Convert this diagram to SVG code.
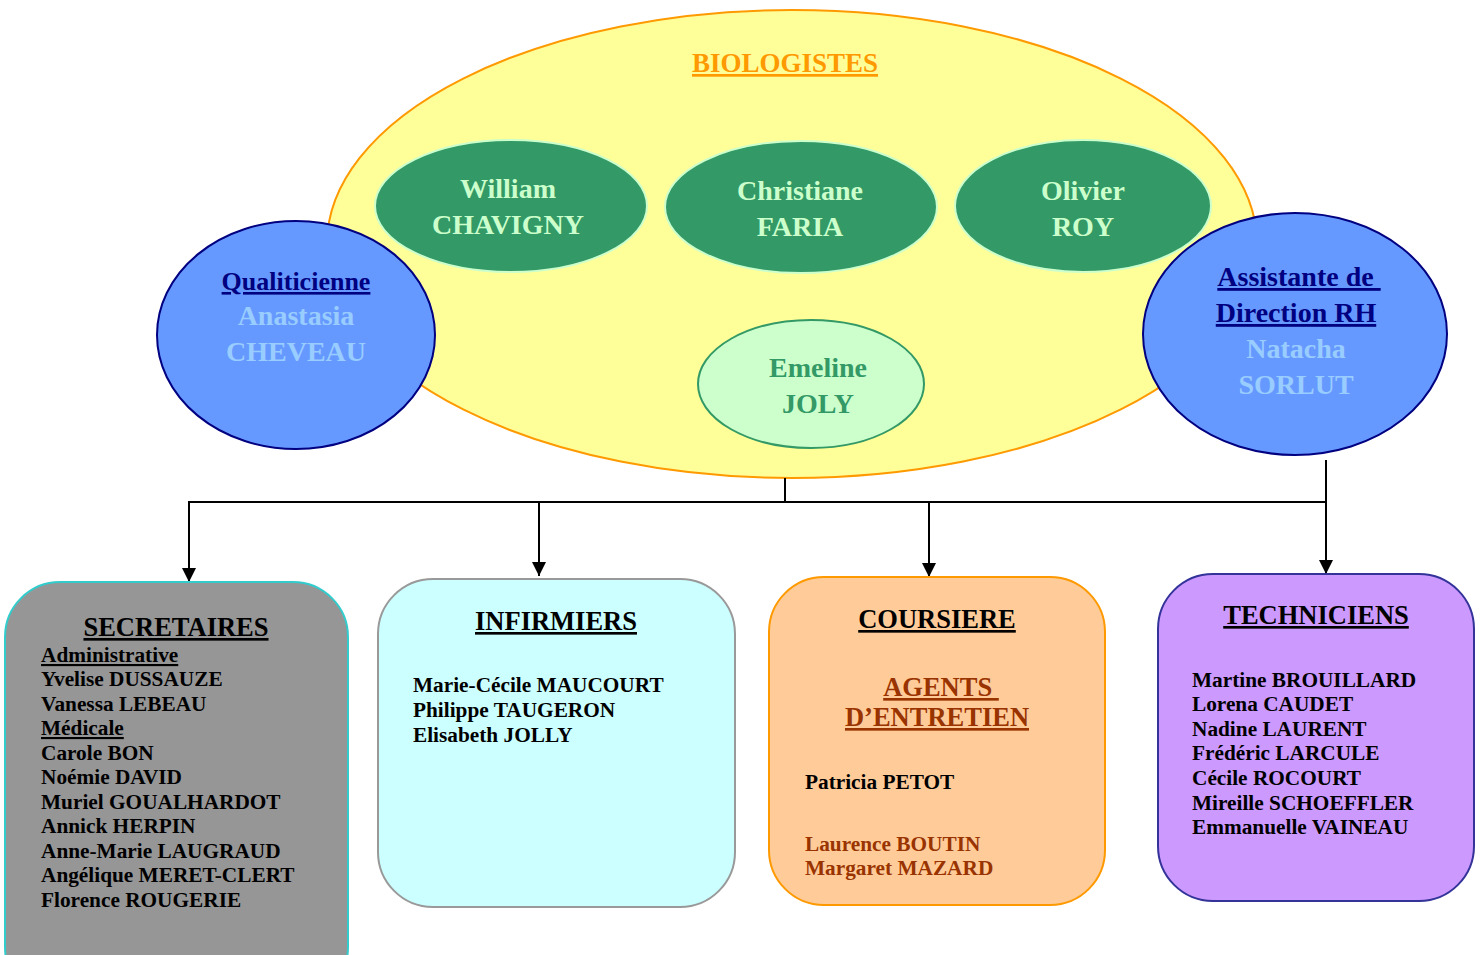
<svg xmlns="http://www.w3.org/2000/svg" width="1480" height="955" viewBox="0 0 1480 955">
<style>
  text { font-family: "Liberation Serif", "Times New Roman", serif; font-weight: bold; }
  .c { text-anchor: middle; }
  .u { text-decoration: underline; white-space: pre; }
  .bio { font-size: 28px; fill: #CCFFCC; }
  .title { font-size: 26.5px; fill: #000000; }
  .lst { font-size: 21.3px; fill: #000000; }
  .conn { stroke: #000; stroke-width: 2; fill: none; }
</style>
<defs>
  <marker id="arr" markerWidth="14" markerHeight="14" refX="14" refY="7" orient="auto" markerUnits="userSpaceOnUse" viewBox="0 0 14 14">
    <path d="M0,0 L14,7 L0,14 Z" fill="#000"/>
  </marker>
</defs>
<rect width="1480" height="955" fill="#fff"/>

<g id="biologistes">
  <ellipse cx="792" cy="244" rx="465" ry="234" fill="#FFFF99" stroke="#FF9900" stroke-width="2"/>
  <text x="785" y="72" class="c u" font-size="27" fill="#FF9900">BIOLOGISTES</text>
</g>

<g id="william">
  <ellipse cx="511" cy="206" rx="136" ry="66" fill="#339966" stroke="#CCFFCC" stroke-width="2"/>
  <text x="508" y="198" class="c bio">William</text>
  <text x="508" y="234" class="c bio">CHAVIGNY</text>
</g>
<g id="christiane">
  <ellipse cx="801" cy="207" rx="136" ry="66" fill="#339966" stroke="#CCFFCC" stroke-width="2"/>
  <text x="800" y="200" class="c bio">Christiane</text>
  <text x="800" y="236" class="c bio">FARIA</text>
</g>
<g id="olivier">
  <ellipse cx="1083" cy="206" rx="128" ry="66" fill="#339966" stroke="#CCFFCC" stroke-width="2"/>
  <text x="1083" y="200" class="c bio">Olivier</text>
  <text x="1083" y="236" class="c bio">ROY</text>
</g>
<g id="emeline">
  <ellipse cx="811" cy="384" rx="113" ry="64" fill="#CCFFCC" stroke="#339966" stroke-width="2"/>
  <text x="818" y="377" class="c" font-size="28" fill="#339966">Emeline</text>
  <text x="818" y="413" class="c" font-size="28" fill="#339966">JOLY</text>
</g>

<g id="qualiticienne">
  <ellipse cx="296" cy="335" rx="139" ry="114" fill="#6699FF" stroke="#000080" stroke-width="2"/>
  <text x="296" y="290" class="c u" font-size="26" fill="#000080">Qualiticienne</text>
  <text x="296" y="325" class="c" font-size="28" fill="#99CCFF">Anastasia</text>
  <text x="296" y="361" class="c" font-size="28" fill="#99CCFF">CHEVEAU</text>
</g>

<g id="assistante">
  <ellipse cx="1295" cy="334" rx="152" ry="121" fill="#6699FF" stroke="#000080" stroke-width="2"/>
  <text x="1299" y="286" class="c u" font-size="28" fill="#000080">Assistante de </text>
  <text x="1296" y="322" class="c u" font-size="28" fill="#000080">Direction RH</text>
  <text x="1296" y="358" class="c" font-size="28" fill="#99CCFF">Natacha</text>
  <text x="1296" y="394" class="c" font-size="28" fill="#99CCFF">SORLUT</text>
</g>

<g id="connectors">
  <line class="conn" x1="785" y1="478" x2="785" y2="502"/>
  <line class="conn" x1="1326" y1="460" x2="1326" y2="502"/>
  <line class="conn" x1="188" y1="502" x2="1326" y2="502"/>
  <line class="conn" x1="189" y1="502" x2="189" y2="582" marker-end="url(#arr)"/>
  <line class="conn" x1="539" y1="502" x2="539" y2="576" marker-end="url(#arr)"/>
  <line class="conn" x1="929" y1="502" x2="929" y2="577" marker-end="url(#arr)"/>
  <line class="conn" x1="1326" y1="502" x2="1326" y2="574" marker-end="url(#arr)"/>
</g>

<g id="secretaires">
  <rect x="5" y="582" width="343" height="420" rx="55" fill="#969696" stroke="#33CCCC" stroke-width="2"/>
  <text x="176" y="636" class="c u title">SECRETAIRES</text>
  <text x="41" y="662" class="lst u">Administrative</text>
  <text x="41" y="686" class="lst">Yvelise DUSSAUZE</text>
  <text x="41" y="711" class="lst">Vanessa LEBEAU</text>
  <text x="41" y="735" class="lst u">Médicale</text>
  <text x="41" y="760" class="lst">Carole BON</text>
  <text x="41" y="784" class="lst">Noémie DAVID</text>
  <text x="41" y="809" class="lst">Muriel GOUALHARDOT</text>
  <text x="41" y="833" class="lst">Annick HERPIN</text>
  <text x="41" y="858" class="lst">Anne-Marie LAUGRAUD</text>
  <text x="41" y="882" class="lst">Angélique MERET-CLERT</text>
  <text x="41" y="907" class="lst">Florence ROUGERIE</text>
</g>

<g id="infirmiers">
  <rect x="378" y="579" width="357" height="328" rx="55" fill="#CCFFFF" stroke="#999999" stroke-width="2"/>
  <text x="556" y="630" class="c u title">INFIRMIERS</text>
  <text x="413" y="692" class="lst">Marie-Cécile MAUCOURT</text>
  <text x="413" y="717" class="lst">Philippe TAUGERON</text>
  <text x="413" y="742" class="lst">Elisabeth JOLLY</text>
</g>

<g id="coursiere">
  <rect x="769" y="577" width="336" height="328" rx="55" fill="#FFCC99" stroke="#FF9900" stroke-width="2"/>
  <text x="937" y="628" class="c u title">COURSIERE</text>
  <text x="941" y="696" class="c u title" style="fill:#993300">AGENTS </text>
  <text x="937" y="726" class="c u title" style="fill:#993300">D’ENTRETIEN</text>
  <text x="805" y="789" class="lst">Patricia PETOT</text>
  <text x="805" y="851" class="lst" style="fill:#993300">Laurence BOUTIN</text>
  <text x="805" y="875" class="lst" style="fill:#993300">Margaret MAZARD</text>
</g>

<g id="techniciens">
  <rect x="1158" y="574" width="316" height="327" rx="55" fill="#CC99FF" stroke="#333399" stroke-width="2"/>
  <text x="1316" y="624" class="c u title">TECHNICIENS</text>
  <text x="1192" y="687" class="lst">Martine BROUILLARD</text>
  <text x="1192" y="711" class="lst">Lorena CAUDET</text>
  <text x="1192" y="736" class="lst">Nadine LAURENT</text>
  <text x="1192" y="760" class="lst">Frédéric LARCULE</text>
  <text x="1192" y="785" class="lst">Cécile ROCOURT</text>
  <text x="1192" y="810" class="lst">Mireille SCHOEFFLER</text>
  <text x="1192" y="834" class="lst">Emmanuelle VAINEAU</text>
</g>
</svg>
